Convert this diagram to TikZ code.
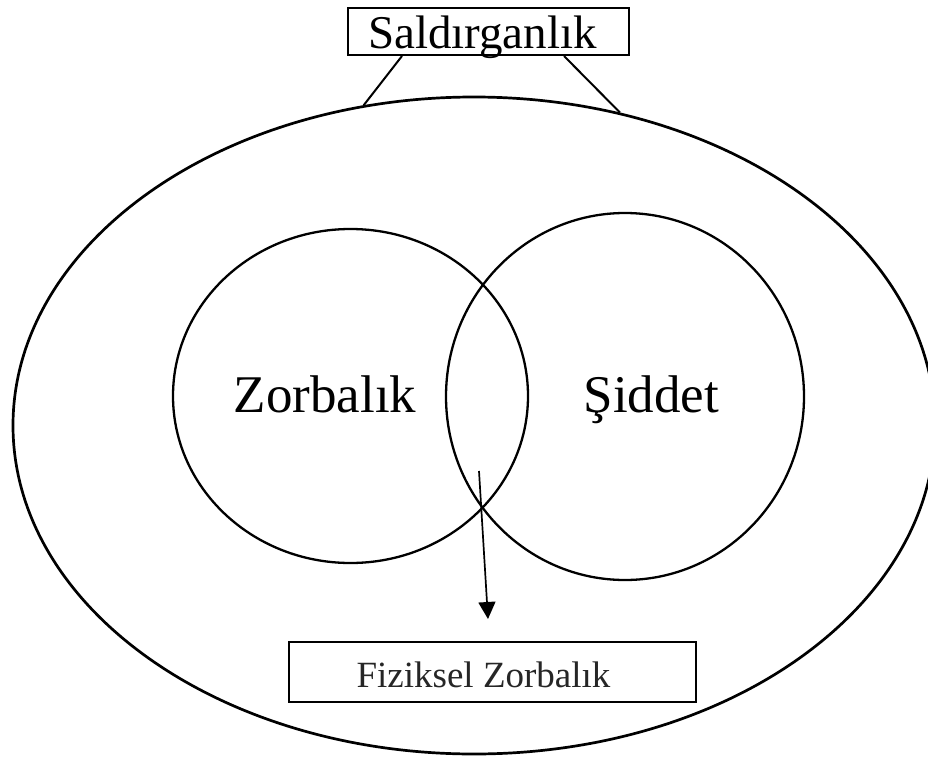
\documentclass[tikz,border=0pt]{standalone}
\usepackage{fontspec}
\setmainfont{Liberation Serif}
\usetikzlibrary{shapes.geometric,arrows.meta}
\tikzset{
  outerell/.style={draw, ellipse, line width=2.7pt, inner sep=0pt},
  setell/.style={draw, ellipse, line width=2.3pt, inner sep=0pt},
  bigtext/.style={font=\fontsize{53}{60}\selectfont, anchor=base, inner sep=0pt},
  topbox/.style={draw, line width=2pt, inner sep=0pt, minimum width=281pt, minimum height=47pt,
     text height=35pt, text depth=0pt, font=\fontsize{47}{52}\selectfont},
  botbox/.style={draw, line width=1.4pt, inner sep=0pt, minimum width=407pt, minimum height=60pt,
     text height=30pt, text depth=0pt, font=\fontsize{37}{42}\selectfont, text={black!85}},
  link/.style={line width=2pt},
  pointer/.style={line width=1.7pt, -{Triangle[width=17pt,length=17pt]}}
}
\begin{document}
\begin{tikzpicture}[x=1pt,y=-1pt]
\useasboundingbox (0,0) rectangle (928,757);
\node[outerell, minimum width=922pt, minimum height=657pt] (big) at (474,425.5) {};
\node[setell, minimum width=355pt, minimum height=334pt] (zc) at (350.5,396) {};
\node[setell, minimum width=358pt, minimum height=367pt] (sc) at (625,396.5) {};
\node[bigtext] (zt) at (325,412) {Zorbalık};
\node[bigtext] (st) at (651.5,412) {Şiddet};
\node[topbox] (sald) at (488.5,31.5) {Saldırganlık\hspace*{12pt}};
\node[botbox] (fiz) at (492.5,672) {Fiziksel Zorbalık\hspace*{18pt}};
\coordinate (la) at ([xshift=55pt]sald.south west);
\coordinate (ra) at ([xshift=217pt]sald.south west);
\draw[link] (la) -- (big.109.5);
\draw[link] (ra) -- (big.65.9);
\coordinate (arrS) at (479,471);
\coordinate (arrE) at (488,619);
\draw[pointer] (arrS) -- (arrE);
\end{tikzpicture}
\end{document}
